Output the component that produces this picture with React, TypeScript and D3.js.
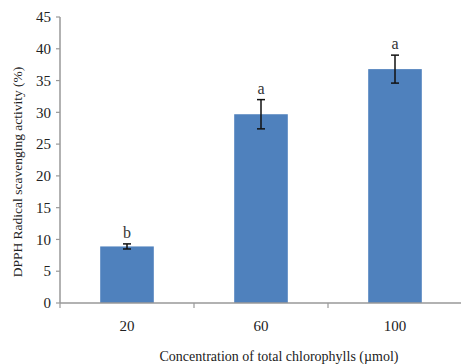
import React, { useRef, useEffect } from "react";
import * as d3 from "d3";

const categories = ["20", "60", "100"];
const values = [8.9, 29.7, 36.8];
const errors = [0.4, 2.3, 2.2];
const letters = ["b", "a", "a"];
const yTicks = [0, 5, 10, 15, 20, 25, 30, 35, 40, 45];

const App = () => {
  const ref = useRef<SVGSVGElement>(null);

  useEffect(() => {
    const svg = d3.select(ref.current);
    svg.selectAll("*").remove();

    const font = "'Liberation Serif', 'Times New Roman', serif";
    const axisColor = "#999";

    const x = d3.scaleBand().domain(categories).range([60, 462]).padding(0);
    const y = d3.scaleLinear().domain([0, 45]).range([303, 17]);
    const barW = x.bandwidth() * 0.4;

    // y axis
    const yAxis = svg.append("g").attr("transform", "translate(60,0)");
    yAxis.append("line").attr("x1", 0).attr("x2", 0).attr("y1", y(45)).attr("y2", y(0))
      .attr("stroke", axisColor).attr("stroke-width", 1.5);
    yAxis.selectAll("line.tick").data(yTicks).join("line")
      .attr("class", "tick")
      .attr("x1", -4).attr("x2", 0)
      .attr("y1", (d) => y(d)).attr("y2", (d) => y(d))
      .attr("stroke", axisColor).attr("stroke-width", 1.2);
    yAxis.selectAll("text").data(yTicks).join("text")
      .attr("x", -9).attr("y", (d) => y(d))
      .attr("dy", "0.35em")
      .attr("text-anchor", "end")
      .attr("font-family", font).attr("font-size", 15).attr("fill", "#222")
      .text((d) => d);

    // bars
    svg.append("g").selectAll("rect").data(values).join("rect")
      .attr("x", (d, i) => x(categories[i])! + x.bandwidth() / 2 - barW / 2)
      .attr("y", (d) => y(d))
      .attr("width", barW)
      .attr("height", (d) => y(0) - y(d))
      .attr("fill", "#4F81BD");

    // error bars + letters
    const err = svg.append("g").attr("stroke", "#111").attr("stroke-width", 1.5);
    values.forEach((v, i) => {
      const cx = x(categories[i])! + x.bandwidth() / 2;
      const top = y(v + errors[i]);
      const bot = y(v - errors[i]);
      err.append("line").attr("x1", cx).attr("x2", cx).attr("y1", top).attr("y2", bot);
      err.append("line").attr("x1", cx - 4).attr("x2", cx + 4).attr("y1", top).attr("y2", top);
      err.append("line").attr("x1", cx - 4).attr("x2", cx + 4).attr("y1", bot).attr("y2", bot);
      svg.append("text")
        .attr("x", cx).attr("y", top - 6)
        .attr("text-anchor", "middle")
        .attr("font-family", font).attr("font-size", 16).attr("fill", "#333")
        .text(letters[i]);
    });

    // x axis
    const xAxis = svg.append("g").attr("transform", `translate(0,${y(0)})`);
    xAxis.append("line").attr("x1", 60).attr("x2", 462).attr("y1", 0).attr("y2", 0)
      .attr("stroke", axisColor).attr("stroke-width", 1.5);
    const bounds = [60, ...categories.map((c) => x(c)! + x.bandwidth())];
    xAxis.selectAll("line.tick").data(bounds).join("line")
      .attr("class", "tick")
      .attr("x1", (d) => d).attr("x2", (d) => d)
      .attr("y1", 0).attr("y2", 5)
      .attr("stroke", axisColor).attr("stroke-width", 1.2);
    xAxis.selectAll("text").data(categories).join("text")
      .attr("x", (d) => x(d)! + x.bandwidth() / 2)
      .attr("y", 28)
      .attr("text-anchor", "middle")
      .attr("font-family", font).attr("font-size", 15).attr("fill", "#222")
      .text((d) => d);

    // titles
    svg.append("text")
      .attr("x", 279).attr("y", 361)
      .attr("text-anchor", "middle")
      .attr("font-family", font).attr("font-size", 14).attr("fill", "#222")
      .text("Concentration of total chlorophylls (\u00b5mol)");
    svg.append("text")
      .attr("transform", "translate(22,172) rotate(-90)")
      .attr("text-anchor", "middle")
      .attr("font-family", font).attr("font-size", 13.5).attr("fill", "#222")
      .text("DPPH Radical scavenging activity (%)");
  }, []);

  return (
    <svg ref={ref} width={461} height={364}
      style={{ position: "absolute", left: 0, top: 0, background: "#fff" }} />
  );
};

export default App;
